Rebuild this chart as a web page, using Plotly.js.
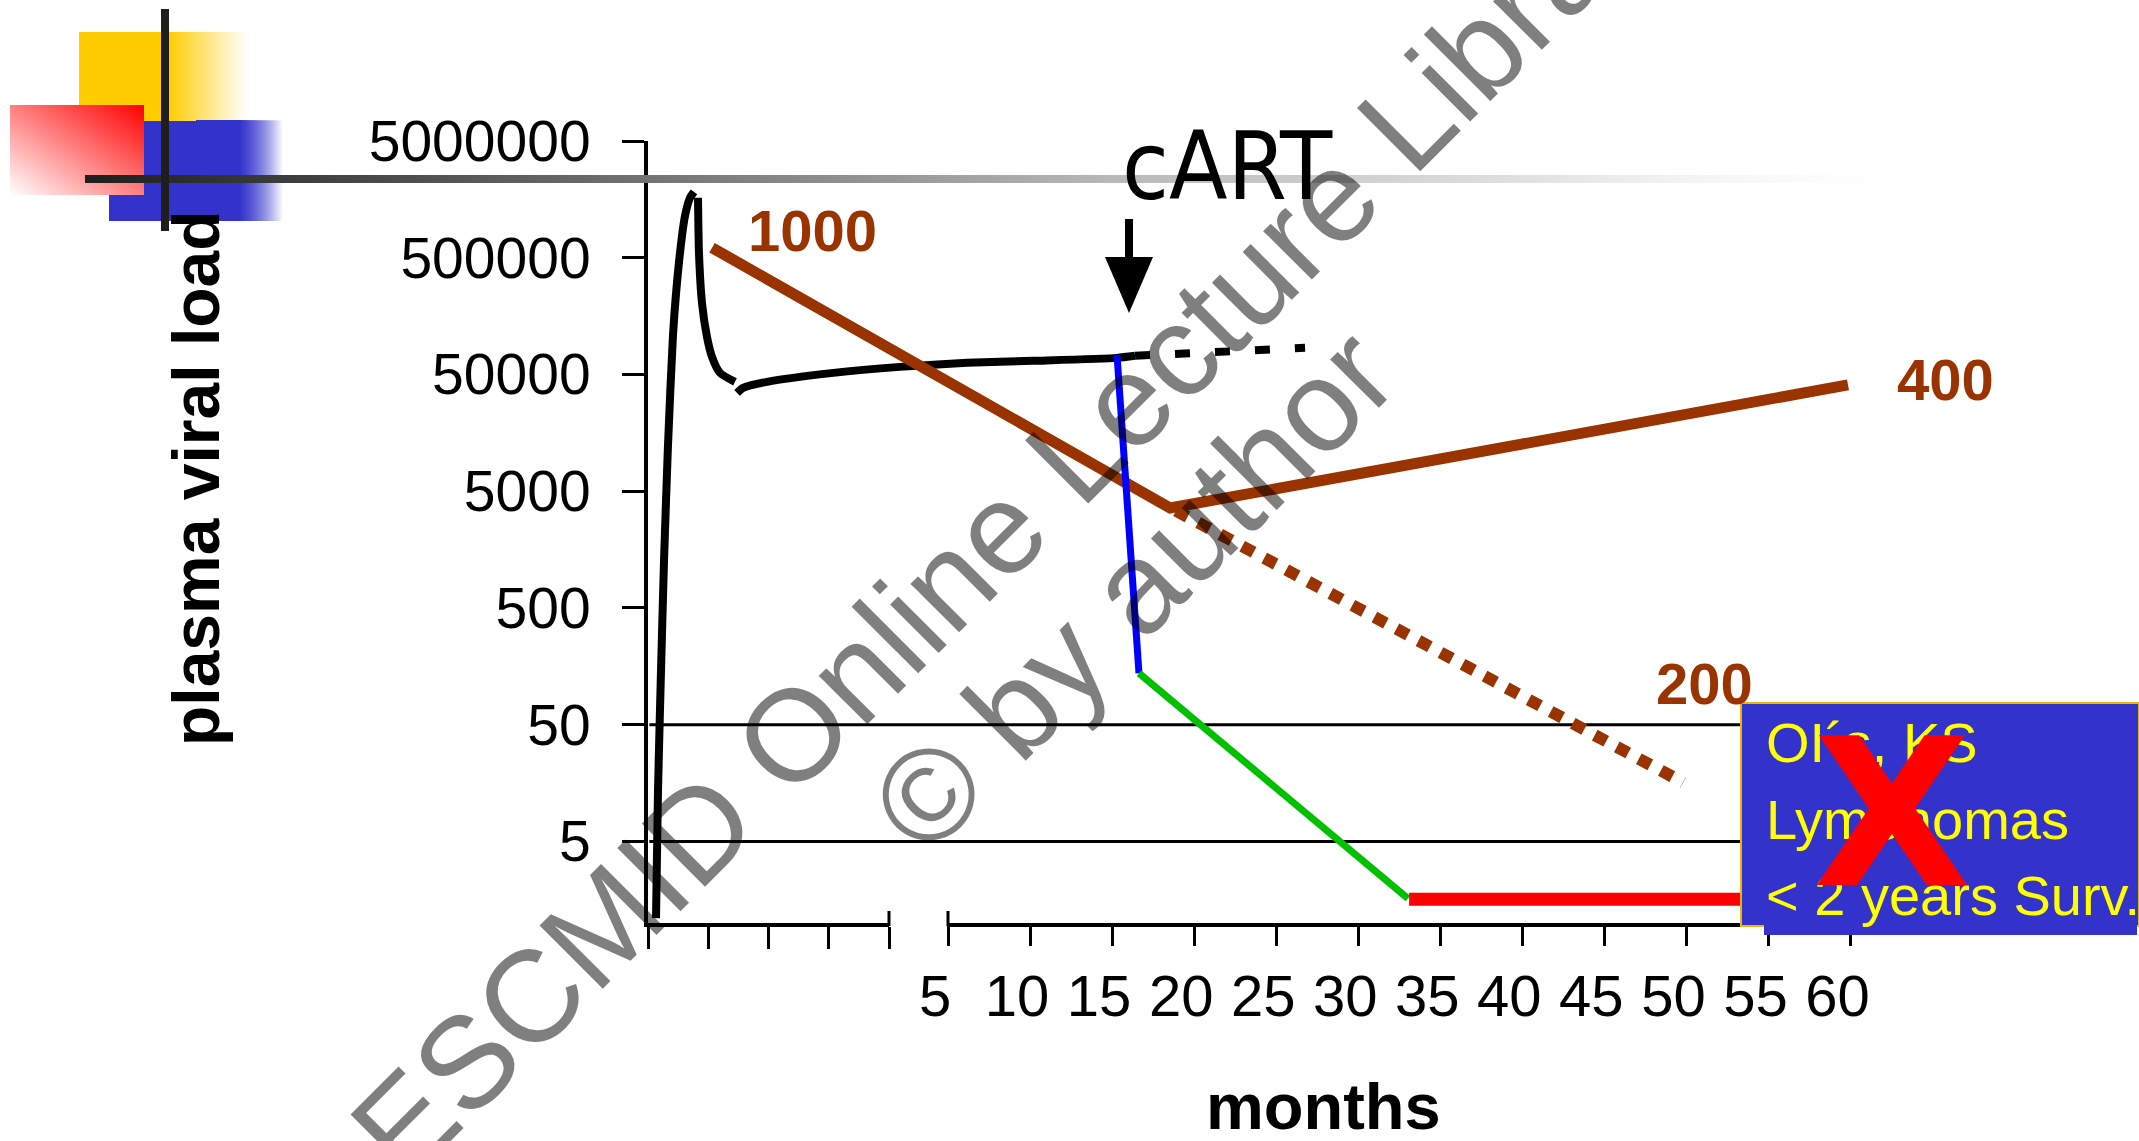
<!DOCTYPE html>
<html>
<head>
<meta charset="utf-8">
<script src="https://cdn.plot.ly/plotly-3.0.1.min.js"></script>
<style>html,body{margin:0;padding:0;background:#fff;}#chart{width:2139px;height:1141px;}</style>
</head>
<body>
<div id="chart"></div>
<script>
// ---------- data ----------
// primary infection, on the short left (unlabelled) segment of the broken axis
const acuteRiseWeeks = [0.133, 0.166, 0.216, 0.266, 0.332, 0.415, 0.515, 0.614, 0.697, 0.763];
const acuteRiseVL    = [1.1, 13.7, 146, 1285, 12450, 109300, 462000, 1140000, 1630000, 1830000];
const acuteFallWeeks = [0.830, 0.846, 0.896, 0.979, 1.062, 1.195, 1.444];
const acuteFallVL    = [1630000, 552000, 205600, 105000, 70800, 51600, 43250];

// chronic phase (months axis)
const setpointMonths = [-7.86, -7.49, -6.03, -1.99, 2.07, 6.16, 10.18, 15.30, 16.40];
const setpointVL     = [34750, 38370, 43250, 51600, 58070, 62950, 65450, 69360, 72260];
const untreatedMonths = [16.40, 26.76];
const untreatedVL     = [72260, 84500];

// CD4 course (brown), drawn on the same scale
const cd4Months = [-9.38, 18.54, 59.85];
const cd4Level  = [609600, 3589, 40730];
const cd4DeclineMonths = [18.9, 49.8];
const cd4DeclineLevel  = [3400, 16.0];

// response to cART
const dropMonths  = [15.30, 16.64];
const dropVL      = [73600, 138];
const decayMonths = [16.64, 33.03];
const decayVL     = [138, 1.62];
const supprMonths = [33.1, 54.5];
const supprVL     = [1.6, 1.6];

// detection thresholds
const thresholdMonths = [-13.2, 53.6];
const threshold50 = [50, 50];
const threshold5  = [5, 5];

// axis ticks
const yTickVals  = [5, 50, 500, 5000, 50000, 500000, 5000000];
const yTickText  = ['5', '50', '500', '5000', '50000', '500000', '5000000'];
const xTickVals  = [5, 10, 15, 20, 25, 30, 35, 40, 45, 50, 55, 60];
const xTickText  = xTickVals.map(String);
const weekTicks  = [0, 1, 2, 3, 4];

// ---------- helpers (page pixels -> paper) ----------
const W = 2139, H = 1141;
const PX = v => v / W;
const PY = v => 1 - v / H;
const svgURI = s => 'data:image/svg+xml;base64,' + btoa(s);

const BROWN = '#993300';
const COND = '"DejaVu Sans Condensed", "Liberation Sans", sans-serif';
const SANS = '"Liberation Sans", Arial, sans-serif';

const line = (x, y, xa, color, width, extra) => ({
  type: 'scatter', mode: 'lines', x: x, y: y, xaxis: xa, yaxis: 'y',
  line: Object.assign({color: color, width: width}, extra || {}),
  hoverinfo: 'skip', showlegend: false
});

const traces = [
  line(thresholdMonths, threshold50, 'x2', '#000', 3),
  line(thresholdMonths, threshold5, 'x2', '#000', 3),
  line(acuteRiseWeeks, acuteRiseVL, 'x', '#000', 8, {shape: 'spline', smoothing: 0.5}),
  line(acuteFallWeeks, acuteFallVL, 'x', '#000', 8, {shape: 'spline', smoothing: 0.6}),
  line(setpointMonths, setpointVL, 'x2', '#000', 8, {shape: 'spline', smoothing: 0.6}),
  line(untreatedMonths, untreatedVL, 'x2', '#000', 8, {dash: '15px,25px'}),
  line(cd4Months, cd4Level, 'x2', BROWN, 11),
  line(cd4DeclineMonths, cd4DeclineLevel, 'x2', BROWN, 12, {dash: '13px,12px'}),
  line(dropMonths, dropVL, 'x2', '#0000FF', 7),
  line(decayMonths, decayVL, 'x2', '#00C000', 7),
  line(supprMonths, supprVL, 'x2', '#FF0000', 13)
];

// ---------- decorations ----------
const yellowSVG = '<svg xmlns="http://www.w3.org/2000/svg" width="168" height="89" viewBox="0 0 168 89" preserveAspectRatio="none"><defs><linearGradient id="g" x1="0" y1="0" x2="1" y2="0"><stop offset="0.53" stop-color="#FFCC00"/><stop offset="1" stop-color="#FFCC00" stop-opacity="0"/></linearGradient></defs><rect width="168" height="89" fill="url(#g)"/></svg>';
const blueSVG = '<svg xmlns="http://www.w3.org/2000/svg" width="174" height="101" viewBox="0 0 174 101" preserveAspectRatio="none"><defs><linearGradient id="g" x1="0" y1="0" x2="1" y2="0"><stop offset="0.5" stop-color="#3333CC"/><stop offset="1" stop-color="#3333CC" stop-opacity="0"/></linearGradient></defs><rect x="0" y="1" width="174" height="100" fill="url(#g)"/><rect x="87" y="0" width="87" height="101" fill="url(#g)"/></svg>';
const redSVG = '<svg xmlns="http://www.w3.org/2000/svg" width="134" height="90" viewBox="0 0 134 90" preserveAspectRatio="none"><defs><linearGradient id="g" x1="1" y1="0" x2="0" y2="1"><stop offset="0" stop-color="#FF0000"/><stop offset="1" stop-color="#FFFFFF"/></linearGradient></defs><rect width="134" height="90" fill="url(#g)"/></svg>';
const barSVG = '<svg xmlns="http://www.w3.org/2000/svg" width="1865" height="8" viewBox="0 0 1865 8" preserveAspectRatio="none"><defs><linearGradient id="g" x1="0" y1="0" x2="1" y2="0"><stop offset="0" stop-color="#1e1e1e"/><stop offset="0.3" stop-color="#727272"/><stop offset="0.55" stop-color="#b8b8b8"/><stop offset="0.78" stop-color="#e2e2e2"/><stop offset="1" stop-color="#ffffff" stop-opacity="0"/></linearGradient></defs><rect width="1865" height="8" fill="url(#g)"/></svg>';

const img = (src, x0, y0, x1, y1) => ({
  source: svgURI(src), xref: 'paper', yref: 'paper',
  x: PX(x0), y: PY(y0), sizex: PX(x1) - PX(x0), sizey: (y1 - y0) / H,
  xanchor: 'left', yanchor: 'top', sizing: 'stretch', layer: 'above'
});

const images = [
  img(yellowSVG, 79, 32, 247, 121),
  img(blueSVG, 109, 120, 283, 221),
  img(redSVG, 10, 105, 144, 195),
  img(barSVG, 85, 175, 1950, 183)
];

const shapes = [
  // vertical black bar of the slide ornament
  {type: 'rect', xref: 'paper', yref: 'paper', x0: PX(161), x1: PX(169), y0: PY(9), y1: PY(231),
   fillcolor: '#1e1e1e', line: {width: 0}, layer: 'above'},
  // right segment of the broken x axis
  {type: 'line', xref: 'x2', yref: 'paper', x0: 5, x1: 62, y0: PY(925), y1: PY(925),
   line: {color: '#000', width: 4}},
  // break marks
  {type: 'line', xref: 'paper', yref: 'paper', x0: PX(889), x1: PX(889), y0: PY(911), y1: PY(926), line: {color: '#000', width: 3}},
  {type: 'line', xref: 'paper', yref: 'paper', x0: PX(948), x1: PX(948), y0: PY(911), y1: PY(926), line: {color: '#000', width: 3}},
  // cART arrow
  {type: 'line', xref: 'paper', yref: 'paper', x0: PX(1129), x1: PX(1129), y0: PY(219), y1: PY(262), line: {color: '#000', width: 8}},
  {type: 'path', xref: 'paper', yref: 'paper',
   path: 'M' + PX(1105) + ',' + PY(257) + ' L' + PX(1153) + ',' + PY(257) + ' L' + PX(1129) + ',' + PY(313) + ' Z',
   fillcolor: '#000', line: {width: 0}},
  // outcome box
  {type: 'rect', xref: 'paper', yref: 'paper', x0: PX(1741), x1: PX(2139), y0: PY(703), y1: PY(926),
   fillcolor: '#3333CC', line: {color: '#F2B600', width: 2}, layer: 'above'},
  {type: 'rect', xref: 'paper', yref: 'paper', x0: PX(1764), x1: PX(2137), y0: PY(706), y1: PY(935),
   fillcolor: '#3333CC', line: {width: 0}, layer: 'above'}
];

const ann = (text, x, y, font, extra) => Object.assign({
  text: text, xref: 'paper', yref: 'paper', x: PX(x), y: PY(y),
  xanchor: 'center', yanchor: 'middle', showarrow: false, font: font
}, extra || {});

const boxFont = {family: SANS, size: 56, color: '#FFFF00'};
const cd4Font = {family: SANS, size: 58, color: BROWN, weight: 'bold'};
const wmFont = {family: SANS, size: 130, color: 'rgba(0,0,0,0.5)'};

const annotations = [
  ann('plasma viral load', 196, 478, {family: SANS, size: 66, color: '#000', weight: 'bold'}, {textangle: -90}),
  ann('months', 1323, 1106, {family: SANS, size: 65, color: '#000', weight: 'bold'}),
  ann('cART', 1227, 166, {family: COND, size: 95, color: '#000'}),
  ann('1000', 812, 231, cd4Font),
  ann('400', 1945, 380, cd4Font),
  ann('200', 1704, 683, cd4Font),
  ann('OI´s, KS', 1764, 742, boxFont, {xanchor: 'left'}),
  ann('Lymphomas', 1764, 819, boxFont, {xanchor: 'left'}),
  ann('&lt; 2 years Surv.', 1764, 895, boxFont, {xanchor: 'left'}),
  ann('X', 1892, 814, {family: '"DejaVu Sans", sans-serif', size: 205, color: '#FF0000', weight: 'bold'}),
  // watermark
  ann('ESCMID Online Lecture Library', 1018, 510, wmFont, {textangle: -45}),
  ann('© by author', 1133, 590, wmFont, {textangle: -45})
];

const layout = {
  width: W, height: H,
  margin: {l: 0, r: 0, t: 0, b: 0, pad: 0},
  paper_bgcolor: '#fff', plot_bgcolor: 'rgba(0,0,0,0)',
  showlegend: false,
  xaxis: {
    domain: [PX(648), PX(889)], range: [0, 4], anchor: 'y',
    showline: true, linecolor: '#000', linewidth: 4,
    ticks: 'outside', tickvals: weekTicks, ticklen: 22, tickwidth: 3, tickcolor: '#000',
    showticklabels: false, showgrid: false, zeroline: false, fixedrange: true
  },
  xaxis2: {
    domain: [PX(648), 1], range: [(648 - 865.95) / 16.409, (2139 - 865.95) / 16.409], anchor: 'y',
    showline: false,
    ticks: 'outside', tickvals: xTickVals, ticktext: xTickText, ticklen: 22, tickwidth: 3, tickcolor: '#000',
    tickfont: {family: SANS, size: 58, color: '#000'}, ticklabelshift: -13, ticklabelstandoff: 0,
    showgrid: false, zeroline: false, fixedrange: true
  },
  yaxis: {
    type: 'log', domain: [PY(923), PY(141)], range: [0, Math.log10(5000000)], anchor: 'x',
    showline: true, linecolor: '#000', linewidth: 4,
    ticks: 'outside', tickvals: yTickVals, ticktext: yTickText, ticklen: 22, tickwidth: 3, tickcolor: '#000',
    tickfont: {family: SANS, size: 57, color: '#000'}, ticklabelstandoff: 20,
    showgrid: false, zeroline: false, fixedrange: true
  },
  images: images,
  shapes: shapes,
  annotations: annotations
};

Plotly.newPlot('chart', traces, layout, {staticPlot: true, displayModeBar: false});
</script>
</body>
</html>
